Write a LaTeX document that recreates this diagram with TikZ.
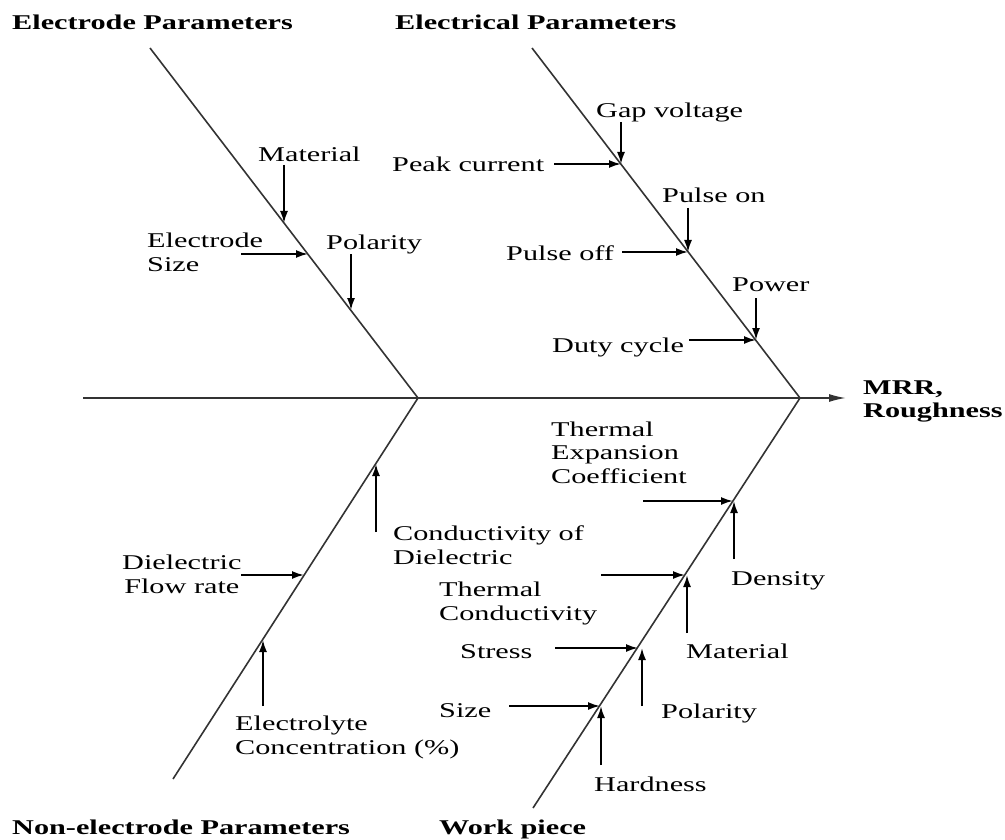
\documentclass[tikz,border=0pt]{standalone}
\usepackage{fontspec}
\setmainfont{Liberation Serif}[FakeStretch=1.44]
\usetikzlibrary{arrows.meta}
\begin{document}
\begin{tikzpicture}[x=1pt,y=-1pt,
  bone/.style={line width=1.6pt, draw=black!80},
  cause/.style={line width=1.8pt, -{Latex[length=12pt,width=8pt]}},
  lbl/.style={inner sep=0pt, font=\fontsize{21pt}{23.5pt}\selectfont, anchor=base west, align=left},
  title/.style={lbl, font=\fontsize{21pt}{22.5pt}\selectfont\bfseries}]
\useasboundingbox (0,0) rectangle (1005,840);
% skeleton
\coordinate (tail) at (83,398);
\coordinate (J1) at (418,398);
\coordinate (J2) at (800,398);
\coordinate (head) at (846,398);
\coordinate (UL) at (150,48);
\coordinate (UR) at (532,48);
\coordinate (LL) at (173,779);
\coordinate (LR) at (533,808);
\draw[bone] (tail) -- (J2);
\draw[bone, -{Latex[length=17pt,width=8pt]}] (J2) -- (head);
\draw[bone] (UL) -- (J1) -- (LL);
\draw[bone] (UR) -- (J2) -- (LR);
% titles
\node[title] (tEP) at (12,30) {Electrode Parameters};
\node[title] (tEL) at (395,30) {Electrical Parameters};
\node[title] (tNE) at (12,834) {Non-electrode Parameters};
\node[title] (tWP) at (439,834) {Work piece};
\node[title] (tEF) at (863,417) {MRR,\\Roughness};
% electrode parameters
\node[lbl] (mat1) at (258,162) {Material};
\node[lbl] (esize) at (147,271) {Electrode\\Size};
\node[lbl] (pol1) at (326,250) {Polarity};
\coordinate (mat1s) at (284,165); \coordinate (mat1e) at (284,223);
\coordinate (esizes) at (241,254); \coordinate (esizee) at (308,254);
\coordinate (pol1s) at (351,254); \coordinate (pol1e) at (351,310);
\draw[cause] (mat1s) -- (mat1e);
\draw[cause] (esizes) -- (esizee);
\draw[cause] (pol1s) -- (pol1e);
% electrical parameters
\node[lbl] (gap) at (596,118) {Gap voltage};
\node[lbl] (peak) at (392,172) {Peak current};
\node[lbl] (pon) at (662,203) {Pulse on};
\node[lbl] (poff) at (506,260) {Pulse off};
\node[lbl] (pow) at (732,291) {Power};
\node[lbl] (duty) at (552,352) {Duty cycle};
\coordinate (e1) at (621,164);
\coordinate (e2) at (688,252);
\coordinate (e3) at (756,340);
\coordinate (gaps) at (621,122);
\coordinate (peaks) at (554,164);
\coordinate (pons) at (688,208);
\coordinate (poffs) at (622,252);
\coordinate (pows) at (756,298);
\coordinate (dutys) at (689,340);
\draw[cause] (gaps) -- (e1);
\draw[cause] (peaks) -- (e1);
\draw[cause] (pons) -- (e2);
\draw[cause] (poffs) -- (e2);
\draw[cause] (pows) -- (e3);
\draw[cause] (dutys) -- (e3);
% non-electrode parameters
\node[lbl] (cond) at (393,564) {Conductivity of\\Dielectric};
\node[lbl, align=center] (flow) at (122,593) {Dielectric\\Flow rate};
\node[lbl] (elec) at (235,754) {Electrolyte\\Concentration (\%)};
\coordinate (conds) at (376,532); \coordinate (conde) at (376,464);
\coordinate (flows) at (241,575); \coordinate (flowe) at (304,575);
\coordinate (elecs) at (263,706); \coordinate (elece) at (263,640);
\draw[cause] (conds) -- (conde);
\draw[cause] (flows) -- (flowe);
\draw[cause] (elecs) -- (elece);
% work piece
\node[lbl] (tec) at (551,483) {Thermal\\Expansion\\Coefficient};
\node[lbl] (dens) at (731,585) {Density};
\node[lbl] (tcond) at (439,620) {Thermal\\Conductivity};
\node[lbl] (mat2) at (686,658) {Material};
\node[lbl] (stress) at (460,658) {Stress};
\node[lbl] (pol2) at (661,718) {Polarity};
\node[lbl] (size2) at (439,717) {Size};
\node[lbl] (hard) at (594,791) {Hardness};
\coordinate (w1) at (733,501);
\coordinate (w2) at (685,575);
\coordinate (w3) at (638,648);
\coordinate (w4) at (600,706);
\coordinate (tecs) at (643,501);
\coordinate (denss) at (734,559);
\coordinate (tconds) at (601,575);
\coordinate (mat2s) at (687,633);
\coordinate (stresss) at (555,648);
\coordinate (pol2s) at (642,706);
\coordinate (size2s) at (509,706);
\coordinate (hards) at (601,765);
\draw[cause] (tecs) -- (w1);
\draw[cause] (denss) -- (denss |- w1);
\draw[cause] (tconds) -- (w2);
\draw[cause] (mat2s) -- (mat2s |- w2);
\draw[cause] (stresss) -- (w3);
\draw[cause] (pol2s) -- (pol2s |- w3);
\draw[cause] (size2s) -- (w4);
\draw[cause] (hards) -- (hards |- w4);
\end{tikzpicture}
\end{document}
